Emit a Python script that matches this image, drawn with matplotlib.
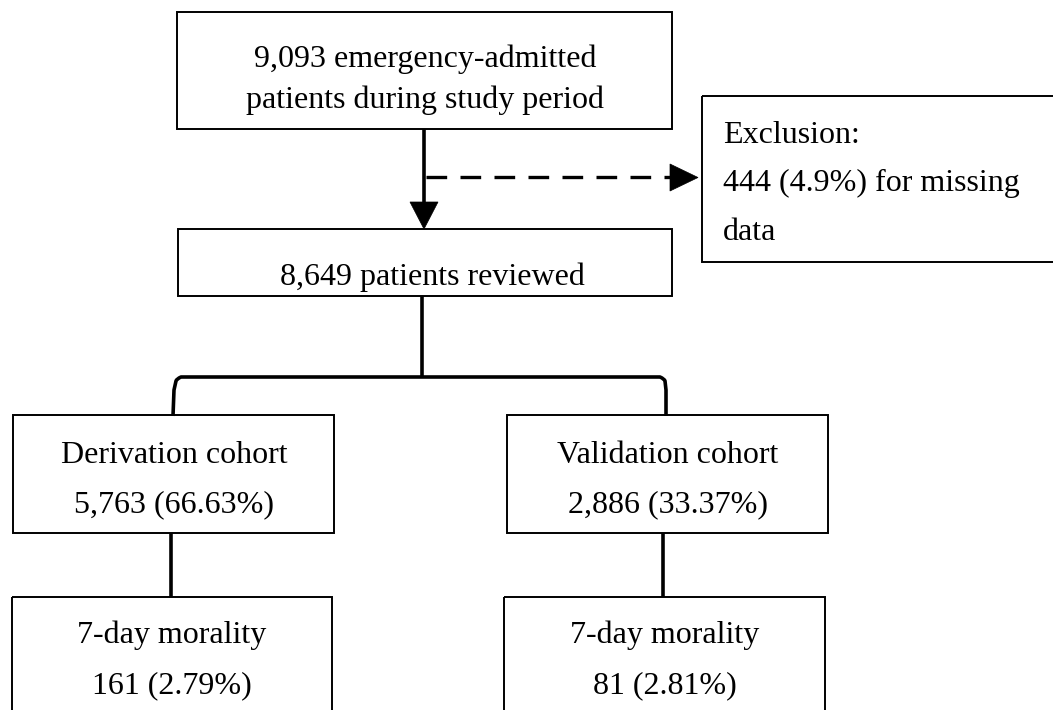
import matplotlib
matplotlib.use("Agg")
import matplotlib.pyplot as plt
from matplotlib.patches import Rectangle, Polygon
from matplotlib.path import Path
from matplotlib.patches import PathPatch

# ---- content ----
top_lines = ["9,093 emergency-admitted", "patients during study period"]
reviewed_lines = ["8,649 patients reviewed"]
exclusion_lines = ["Exclusion:", "444 (4.9%) for missing", "data"]
derivation_lines = ["Derivation cohort", "5,763 (66.63%)"]
validation_lines = ["Validation cohort", "2,886 (33.37%)"]
deriv_mort_lines = ["7-day morality", "161 (2.79%)"]
valid_mort_lines = ["7-day morality", "81 (2.81%)"]

W, H = 1053, 710
fig = plt.figure(figsize=(W / 100, H / 100), dpi=100)
ax = fig.add_axes([0, 0, 1, 1])
ax.set_xlim(0, W)
ax.set_ylim(H, 0)
ax.axis("off")

FONT = "Liberation Serif"
FS = 23
BOX_LW = 1.4
LINE_LW = 2.6


def box(x0, y0, x1, y1):
    ax.add_patch(Rectangle((x0, y0), x1 - x0, y1 - y0, fill=False,
                           edgecolor="black", linewidth=BOX_LW, clip_on=True))


def lines_text(x, baselines, lines, ha="center"):
    for b, t in zip(baselines, lines):
        ax.text(x, b, t, ha=ha, va="baseline", fontsize=FS,
                family=FONT, color="black")


# Top box
box(177, 12, 672, 129)
lines_text(425, [67, 108], top_lines)

# Vertical arrow top -> reviewed
ax.plot([424, 424], [129, 205], color="black", lw=LINE_LW, solid_capstyle="butt")
ax.add_patch(Polygon([[410, 202], [438, 202], [424, 229]], closed=True,
                     facecolor="black", edgecolor="black", lw=0.5))

# Dashed arrow to exclusion
ax.plot([426, 670], [177, 177], color="black", lw=2.4,
        dashes=(6.2, 4.0), dash_capstyle="butt")
ax.add_patch(Polygon([[670, 164], [670, 191], [698, 177.5]], closed=True,
                     facecolor="black", edgecolor="black", lw=0.5))

# Exclusion box
box(702, 96, 1060, 262)
lines_text(723, [143, 191, 240], exclusion_lines, ha="left")

# Reviewed box
box(178, 229, 672, 296)
lines_text(432, [285], reviewed_lines)

# Bracket
ax.plot([422, 422], [296, 377], color="black", lw=LINE_LW, solid_capstyle="butt")
verts = [(173, 416), (174, 390), (176, 381), (176.5, 379), (181, 377),
         (660, 377), (664.5, 379), (665, 381), (666, 390), (666, 416)]
codes = [Path.MOVETO, Path.LINETO, Path.CURVE3, Path.CURVE3, Path.LINETO,
         Path.LINETO, Path.CURVE3, Path.CURVE3, Path.LINETO, Path.LINETO]
codes = [Path.MOVETO, Path.LINETO, Path.LINETO, Path.CURVE3, Path.CURVE3,
         Path.LINETO, Path.CURVE3, Path.CURVE3, Path.LINETO, Path.LINETO]
ax.add_patch(PathPatch(Path(verts, codes), fill=False, edgecolor="black",
                       lw=LINE_LW, joinstyle="round", capstyle="butt"))

# Derivation / validation boxes
box(13, 415, 334, 533)
lines_text(174, [463, 512], derivation_lines)
box(507, 415, 828, 533)
lines_text(668, [463, 512], validation_lines)

# connectors
ax.plot([171, 171], [533, 597], color="black", lw=LINE_LW, solid_capstyle="butt")
ax.plot([663, 663], [533, 597], color="black", lw=LINE_LW, solid_capstyle="butt")

# Mortality boxes (cut at bottom)
box(12, 597, 332, 720)
lines_text(172, [643, 693], deriv_mort_lines)
box(504, 597, 825, 720)
lines_text(665, [643, 693], valid_mort_lines)

fig.savefig("out.png", dpi=100, facecolor="white")
